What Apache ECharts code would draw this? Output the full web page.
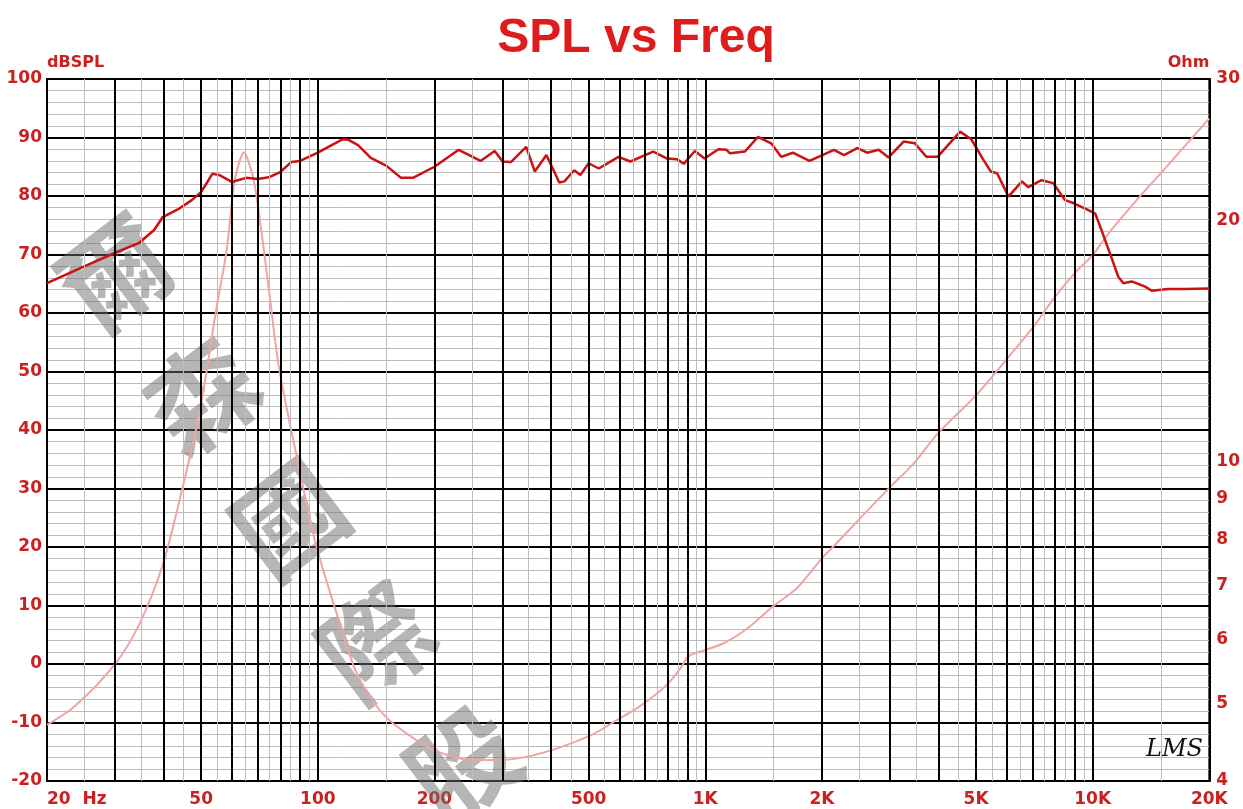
<!DOCTYPE html>
<html>
<head>
<meta charset="utf-8">
<script src="https://cdn.jsdelivr.net/npm/echarts@6/dist/echarts.min.js"></script>
<style>
html, body { margin: 0; padding: 0; background: #fff; }
#chart { width: 1243px; height: 809px; }
</style>
</head>
<body>
<div id="chart"></div>
<script>
// 频率刻度
var freqTicks = [20, 50, 100, 200, 500, 1000, 2000, 5000, 10000, 20000];
var majorFreqs = [30, 40, 50, 60, 70, 80, 90, 100, 200, 300, 400, 500, 600, 700, 800, 900,
    1000, 2000, 3000, 4000, 5000, 6000, 7000, 8000, 9000, 10000];
var minorFreqs = [25, 35, 45, 55, 65, 75, 85, 95, 150, 250, 350, 450, 550, 650, 750, 850, 950,
    1500, 2500, 3500, 4500, 5500, 6500, 7500, 8500, 9500, 15000];
var ohmTicks = [4, 5, 6, 7, 8, 9, 10, 20, 30];

// SPL 曲线
var splFreq = [20, 24.8, 30, 34.6, 37.8, 39.8, 44, 47.3, 50, 51.9, 53.4, 55.6, 60, 65.3, 70, 74.7,
    80, 85.4, 90, 100, 108, 116, 120, 127, 137, 150, 164, 176, 200, 231, 263, 286, 300, 315,
    345, 363, 389, 420, 433, 459, 476, 500, 531, 597, 641, 734, 797, 845, 880, 940, 996,
    1081, 1135, 1158, 1266, 1368, 1479, 1570, 1683, 1857, 2007, 2148, 2282, 2467, 2619,
    2803, 2973, 3250, 3476, 3720, 3977, 4546, 4860, 5200, 5454, 5667, 6063, 6565, 6821,
    7380, 7910, 8480, 8910, 9750, 10150, 10450, 11080, 11640, 12000, 12600, 13660, 14200,
    15650, 17300, 20000];
var splDb = [65.1, 67.9, 70.3, 72.0, 74.2, 76.4, 77.9, 79.3, 80.7, 82.4, 83.8, 83.6, 82.4, 83.1,
    82.9, 83.2, 84.1, 85.8, 86.0, 87.4, 88.6, 89.7, 89.6, 88.7, 86.5, 85.2, 83.1, 83.1, 85.0,
    87.9, 86.0, 87.7, 85.9, 85.8, 88.4, 84.2, 87.0, 82.3, 82.5, 84.4, 83.6, 85.6, 84.7, 86.7,
    85.9, 87.6, 86.4, 86.3, 85.5, 87.7, 86.4, 88.0, 87.9, 87.3, 87.6, 90.1, 89.0, 86.7, 87.4,
    86.0, 87.0, 87.9, 87.0, 88.2, 87.4, 87.9, 86.6, 89.3, 89.0, 86.7, 86.7, 91.0, 89.7, 86.4,
    84.2, 83.9, 79.9, 82.5, 81.5, 82.7, 82.2, 79.3, 78.8, 77.6, 77.0, 74.8, 70.2, 66.2, 65.1,
    65.4, 64.5, 63.8, 64.1, 64.1, 64.2];

// 阻抗曲线
var impFreq = [20, 23.5, 30, 34.6, 39.8, 44.6, 49.6, 54.7, 58.2, 60.8, 63, 64.5, 66, 68.5, 71.6,
    75, 79.4, 89.3, 99, 115, 125, 140, 158, 200, 250, 300, 376, 506, 594, 683, 795, 864, 904,
    970, 1116, 1286, 1494, 1725, 2000, 2141, 2509, 3008, 3459, 3985, 5000, 5977, 7000, 8000,
    9000, 10000, 10840, 13000, 15600, 20000];
var impOhm = [4.70, 4.95, 5.60, 6.27, 7.44, 9.22, 11.57, 15.5, 18.4, 22.2, 23.8, 24.3, 23.8, 22.3,
    19.3, 16.2, 13.1, 9.87, 7.87, 6.2, 5.5, 5.0, 4.70, 4.37, 4.25, 4.25, 4.33, 4.56, 4.77,
    4.97, 5.27, 5.53, 5.72, 5.80, 5.94, 6.20, 6.60, 6.96, 7.58, 7.84, 8.50, 9.31, 9.96,
    10.85, 12.1, 13.4, 14.7, 16.06, 17.2, 18.1, 19.1, 21.2, 23.4, 26.8];

var watermark = ['爾', '森', '國', '際', '股'];

var red = '#cc1f1f';
var labelFont = 'DejaVu Sans';

var myChart = echarts.init(document.getElementById('chart'));

function pairs(xs, ys) {
    return xs.map(function(x, i) { return [x, ys[i]]; });
}

var gridLines = minorFreqs.map(function(f) {
    return { xAxis: f, lineStyle: { color: '#bcbcbc', width: 1, type: 'solid' } };
}).concat(majorFreqs.map(function(f) {
    return { xAxis: f, lineStyle: { color: '#000', width: 2, type: 'solid' } };
}));

var wmElements = watermark.map(function(ch, i) {
    return {
        type: 'text',
        x: 115 + i * 87,
        y: 273 + i * 123,
        rotation: 0.65,
        z: 2,
        silent: true,
        style: {
            text: ch,
            fontSize: 108,
            fontFamily: 'Noto Sans CJK TC',
            fontWeight: 'bold',
            fill: 'rgba(110,110,110,0.5)',
            align: 'center',
            verticalAlign: 'middle',
            textAlign: 'center',
            textVerticalAlign: 'middle'
        }
    };
});

var option = {
    animation: false,
    backgroundColor: '#fff',
    title: {
        text: 'SPL vs Freq',
        left: 631,
        textAlign: 'center',
        top: 10,
        textStyle: {
            color: '#e01b1b',
            fontSize: 48,
            fontWeight: 'bold',
            fontFamily: 'Liberation Sans'
        }
    },
    grid: {
        left: 47,
        right: 28,
        top: 79,
        bottom: 28,
        show: true,
        borderColor: '#000',
        borderWidth: 2
    },
    xAxis: {
        type: 'log',
        min: 20,
        max: 20000,
        axisLine: { show: true, lineStyle: { color: '#000', width: 2 } },
        axisTick: { show: false },
        minorTick: { show: false },
        splitLine: { show: false },
        minorSplitLine: { show: false },
        axisLabel: {
            customValues: freqTicks,
            color: red,
            fontSize: 17,
            fontWeight: 'bold',
            fontFamily: labelFont,
            margin: 10,
            alignMinLabel: 'left',
            formatter: function(v) {
                if (v === 20) return '20  Hz';
                if (v >= 1000) return (v / 1000) + 'K';
                return String(v);
            }
        }
    },
    yAxis: [{
        type: 'value',
        min: -20,
        max: 100,
        interval: 10,
        name: 'dBSPL',
        nameLocation: 'end',
        nameGap: 8,
        nameTextStyle: {
            color: red,
            fontSize: 16,
            fontWeight: 'bold',
            fontFamily: labelFont,
            align: 'left'
        },
        axisLine: { show: true, lineStyle: { color: '#000', width: 2 } },
        axisTick: { show: false },
        axisLabel: {
            color: red,
            fontSize: 17,
            fontWeight: 'bold',
            fontFamily: labelFont,
            margin: 5
        },
        splitLine: { show: true, lineStyle: { color: '#000', width: 2 } },
        minorTick: { show: false, splitNumber: 5 },
        minorSplitLine: { show: true, lineStyle: { color: '#bcbcbc', width: 1 } }
    }, {
        type: 'log',
        min: 4,
        max: 30,
        position: 'right',
        name: 'Ohm',
        nameLocation: 'end',
        nameGap: 8,
        nameTextStyle: {
            color: red,
            fontSize: 16,
            fontWeight: 'bold',
            fontFamily: labelFont,
            align: 'right'
        },
        axisLine: { show: true, lineStyle: { color: '#000', width: 2 } },
        axisTick: { show: false },
        minorTick: { show: false },
        splitLine: { show: false },
        minorSplitLine: { show: false },
        axisLabel: {
            customValues: ohmTicks,
            color: red,
            fontSize: 17,
            fontWeight: 'bold',
            fontFamily: labelFont,
            margin: 7
        }
    }],
    graphic: wmElements.concat([{
        type: 'text',
        x: 1146,
        y: 738,
        z: 10,
        silent: true,
        style: {
            text: 'LMS',
            fontSize: 24,
            fontStyle: 'italic',
            fontFamily: 'DejaVu Serif',
            fill: '#111'
        }
    }]),
    series: [{
        name: 'grid',
        type: 'line',
        xAxisIndex: 0,
        yAxisIndex: 0,
        z: 1,
        silent: true,
        showSymbol: false,
        lineStyle: { opacity: 0 },
        data: [[20, -20], [20000, -20]],
        markLine: {
            silent: true,
            symbol: ['none', 'none'],
            label: { show: false },
            animation: false,
            data: gridLines
        }
    }, {
        name: 'Impedance',
        type: 'line',
        xAxisIndex: 0,
        yAxisIndex: 1,
        z: 3,
        showSymbol: false,
        smooth: 0.3,
        lineStyle: { color: '#f0a4a4', width: 2 },
        data: pairs(impFreq, impOhm)
    }, {
        name: 'SPL',
        type: 'line',
        xAxisIndex: 0,
        yAxisIndex: 0,
        z: 4,
        showSymbol: false,
        lineStyle: { color: '#cc1111', width: 2.5 },
        data: pairs(splFreq, splDb)
    }]
};

myChart.setOption(option);
</script>
</body>
</html>
